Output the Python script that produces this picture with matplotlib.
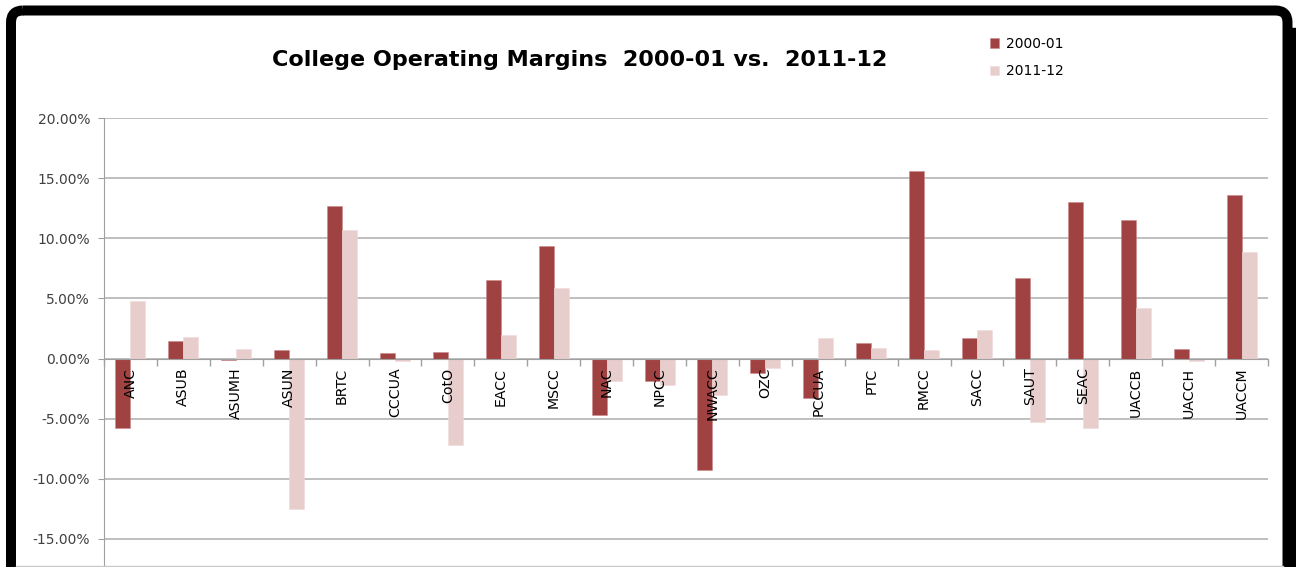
import numpy as np
import matplotlib
matplotlib.use("Agg")
import matplotlib.pyplot as plt
from matplotlib.patches import FancyBboxPatch, Rectangle
from matplotlib.ticker import FuncFormatter

# datos (en %)
colegios = ["ANC", "ASUB", "ASUMH", "ASUN", "BRTC", "CCCUA", "CotO", "EACC",
            "MSCC", "NAC", "NPCC", "NWACC", "OZC", "PCCUA", "PTC", "RMCC",
            "SACC", "SAUT", "SEAC", "UACCB", "UACCH", "UACCM"]
margen_2000 = [-5.77, 1.47, -0.11, 0.67, 12.72, 0.47, 0.53, 6.50,
               9.36, -4.67, -1.85, -9.28, -1.22, -3.29, 1.33, 15.56,
               1.72, 6.69, 13.00, 11.50, 0.75, 13.56]
margen_2011 = [4.81, 1.75, 0.78, -12.49, 10.69, -0.19, -7.20, 1.94,
               5.86, -1.85, -2.18, -3.07, -0.77, 1.69, 0.89, 0.72,
               2.36, -5.28, -5.77, 4.17, -0.17, 8.83]
series = ["2000-01", "2011-12"]
titulo = "College Operating Margins  2000-01 vs.  2011-12"

COL_OSC, COL_CLA = "#a04241", "#e8cdcd"
COL_GRID = "#b4b4b4"
W, H = 1296, 567

fig = plt.figure(figsize=(W / 100, H / 100), dpi=100, facecolor="white")

# área de trazado en píxeles: x 104..1268, 20% en y=118, -20% en y=599
x0, x1 = 104, 1268
ytop, ybot = 118, 599
ax = fig.add_axes([x0 / W, (H - ybot) / H, (x1 - x0) / W, (ybot - ytop) / H])

x = np.arange(len(colegios))
ancho = 0.283
ax.bar(x - ancho / 2, margen_2000, ancho, color=COL_OSC, edgecolor="#c98a8a",
       linewidth=0.4, label=series[0], zorder=3)
ax.bar(x + ancho / 2, margen_2011, ancho, color=COL_CLA, edgecolor="#f0dada",
       linewidth=0.4, label=series[1], zorder=3)

ax.set_xlim(-0.5, len(colegios) - 0.5)
ax.set_ylim(-20, 20)
ax.set_yticks(np.arange(-15, 21, 5))
ax.yaxis.set_major_formatter(FuncFormatter(lambda v, p: f"{v:.2f}%"))
ax.grid(axis="y", color=COL_GRID, lw=1.2, zorder=0)
ax.set_axisbelow(True)

for s in ["top", "right"]:
    ax.spines[s].set_visible(False)
ax.spines["left"].set_color("#a0a0a0")
ax.spines["bottom"].set_color("#a0a0a0")
ax.spines["bottom"].set_position(("data", 0))
ax.spines["bottom"].set_zorder(4)

ax.set_xticks(np.arange(-0.5, len(colegios)))
ax.set_xticklabels([])
ax.tick_params(axis="x", direction="out", length=5, color="#a0a0a0", width=1)
ax.tick_params(axis="y", direction="out", length=4, color="#a0a0a0",
               labelsize=10, labelcolor="#404040", pad=6)
for t in ax.get_yticklabels():
    t.set_fontfamily("DejaVu Sans")

for i, nombre in enumerate(colegios):
    ax.annotate(nombre, (i, 0), xytext=(0, -9), textcoords="offset pixels",
                rotation=90, ha="center", va="top", fontsize=10.2,
                family=["Liberation Sans Narrow", "DejaVu Sans"], color="black",
                zorder=6)

fig.text(580 / W, 1 - 60 / H, titulo, ha="center", va="center",
         fontsize=16, fontweight="bold", family="DejaVu Sans")

fig.legend(loc="upper left", bbox_to_anchor=(984 / W, 1 - 31 / H),
           frameon=False, fontsize=10, handlelength=0.7, handleheight=0.7,
           labelspacing=1.0, handletextpad=0.5, borderaxespad=0)

# marco negro redondeado
marco = fig.add_axes([0, 0, 1, 1], zorder=10)
marco.set_xlim(0, W)
marco.set_ylim(H, 0)
marco.axis("off")
marco.patch.set_alpha(0)
marco.add_patch(FancyBboxPatch((11, 10.5), 1276.5, 620,
                               boxstyle="round,pad=0,rounding_size=12",
                               fill=False, edgecolor="black", linewidth=7.2))
marco.add_patch(Rectangle((1287, 28), 9, H, color="black"))
marco.plot([16, 1283], [565.5, 565.5], color="#c8c8c8", lw=1)

fig.savefig("out.png", dpi=100, facecolor="white")
